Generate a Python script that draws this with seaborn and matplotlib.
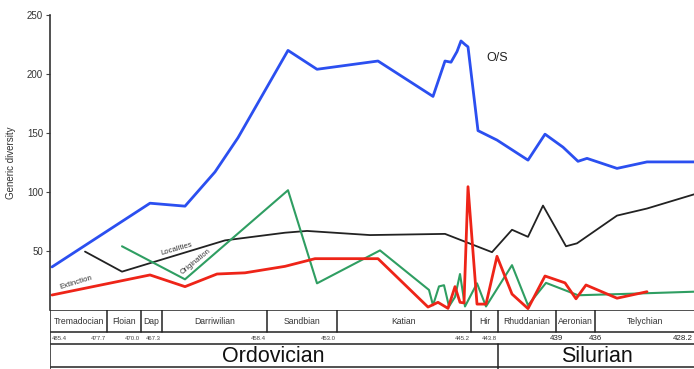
import matplotlib
matplotlib.use("Agg")
import matplotlib.pyplot as plt
import seaborn as sns
import pandas as pd

# ---------------- data (x = position along the stratigraphic scale) ----------------
total_pos = [52, 150, 185, 215, 238, 288, 317, 378, 433, 445, 451, 457, 461, 465, 468,
             478, 497, 528, 545, 563, 578, 587, 617, 647, 694]
total_div = [36.5, 90.5, 88, 117, 146, 220, 204, 211, 181, 211, 210, 219, 228, 225, 223,
             152, 144, 127, 149, 138, 126, 128.5, 120, 125.5, 125.5]

loc_pos = [85, 122, 225, 285, 307, 370, 445, 492, 512, 528, 543, 566, 577, 617, 647, 694]
loc_div = [49.5, 32.5, 59, 65.5, 67, 63.5, 64.5, 49, 68, 62, 88.5, 54, 56.5, 80, 86, 98]

orig_pos = [122, 185, 288, 317, 380, 429, 433, 439, 444, 449, 455, 460, 465, 477, 486,
            512, 528, 546, 578, 620, 694]
orig_div = [54, 26, 101.5, 22.6, 50.5, 17, 4, 20, 21, 3, 11, 30.5, 3, 22.6, 3,
            38, 4, 23, 12.5, 13.5, 15.5]

ext_pos = [52, 150, 185, 217, 245, 285, 315, 378, 428, 438, 448, 455, 460, 464, 468,
           477, 486, 497, 512, 528, 545, 565, 576, 586, 617, 647]
ext_div = [12.7, 29.7, 19.8, 30.5, 31.5, 37, 43.5, 43.5, 2.5, 6.5, 1.4, 19.8, 6.5, 6, 104.5,
           5, 5, 45.5, 13.5, 1.2, 28.8, 23, 9.5, 21.2, 10, 15.5]

stage_names = ["Tremadocian", "Floian", "Dap", "Darriwilian", "Sandbian", "Katian",
               "Hir", "Rhuddanian", "Aeronian", "Telychian"]
stage_edges = [50, 107, 141, 162, 267, 337, 471, 498, 556, 595, 694]
age_labels = ["485.4", "477.7", "470.0", "467.3", "458.4", "453.0", "445.2", "443.8",
              "439", "436", "428.2"]
period_names = ["Ordovician", "Silurian"]
period_edges = [50, 498, 694]

y_ticks = [50, 100, 150, 200, 250]

# ---------------- style ----------------
sns.set_theme(style="white")
plt.rcParams["font.family"] = ["Liberation Sans", "DejaVu Sans"]

W, H = 694, 369
fig = plt.figure(figsize=(W / 100, H / 100), dpi=100)
ax = fig.add_axes([50 / W, 59 / H, 644 / W, 295 / H])
tab = fig.add_axes([50 / W, 0, 644 / W, 59 / H])

blue, red, green, black = "#2b4ff0", "#ee2418", "#2f9e62", "#222222"

df = pd.concat([
    pd.DataFrame({"pos": total_pos, "div": total_div, "s": "O/S"}),
    pd.DataFrame({"pos": loc_pos, "div": loc_div, "s": "Localities"}),
    pd.DataFrame({"pos": orig_pos, "div": orig_div, "s": "Origination"}),
    pd.DataFrame({"pos": ext_pos, "div": ext_div, "s": "Extinction"}),
])

styles = {"Localities": (black, 1.3), "Origination": (green, 1.5),
          "Extinction": (red, 2.0), "O/S": (blue, 2.0)}
for name in ["Localities", "Origination", "Extinction", "O/S"]:
    col, lw = styles[name]
    sns.lineplot(data=df[df.s == name], x="pos", y="div", ax=ax, color=col,
                 linewidth=lw, estimator=None, sort=False, legend=False)

ax.set_xlim(50, 694)
ax.set_ylim(0, 250)
ax.set_xticks([])
ax.set_yticks(y_ticks)
ax.set_xlabel("")
ax.set_ylabel("Generic diversity", fontsize=7, color="#333333", labelpad=8)
ax.tick_params(axis="y", direction="out", length=3, width=0.8, color="#444444",
               labelsize=7, labelcolor="#333333", pad=2, left=True)
for side in ["top", "right", "bottom"]:
    ax.spines[side].set_visible(False)
ax.spines["left"].set_color("#333333")
ax.spines["left"].set_linewidth(1.2)

# line labels
ax.text(497, 213.5, "O/S", fontsize=9, color="#222222", ha="center", va="center")
ax.text(76, 23, "Extinction", fontsize=5.6, color="#333333", rotation=17,
        ha="center", va="center", rotation_mode="anchor")
ax.text(177, 52, "Localities", fontsize=5.6, color="#333333", rotation=16,
        ha="center", va="center", rotation_mode="anchor")
ax.text(196, 41, "Origination", fontsize=5.4, color="#333333", rotation=39,
        ha="center", va="center", rotation_mode="anchor")

# ---------------- time scale table ----------------
tab.set_xlim(50, 694)
tab.set_ylim(59, 0)
tab.axis("off")
lc = "#222222"
for yy in [0, 22, 34, 57]:
    tab.plot([50, 694], [yy, yy], color=lc, lw=1.1, solid_capstyle="butt")
tab.plot([50, 50], [0, 59], color="#333333", lw=1.2)
for e in stage_edges[1:-1]:
    tab.plot([e, e], [0, 22], color=lc, lw=1.1)
for e in period_edges[1:-1]:
    tab.plot([e, e], [34, 59], color=lc, lw=1.1)

for i, nm in enumerate(stage_names):
    cx = (stage_edges[i] + stage_edges[i + 1]) / 2
    tab.text(cx, 11.5, nm, fontsize=6.2, color="#333333", ha="center", va="center")

for i, lab in enumerate(age_labels):
    e = stage_edges[i]
    big = lab in ("439", "436", "428.2")
    if i == 0:
        ha, x = "left", e + 2
    elif lab in ("439", "436"):
        ha, x = "center", e
    else:
        ha, x = "right", e - 1
    tab.text(x, 28, lab, fontsize=5.7 if big else 4.3,
             color="#222222" if big else "#444444", ha=ha, va="center")

for i, nm in enumerate(period_names):
    cx = (period_edges[i] + period_edges[i + 1]) / 2
    if i == 0:
        cx = 273
    else:
        cx = 597
    tab.text(cx, 46, nm, fontsize=15.5, color="#111111", ha="center", va="center")

fig.savefig("out.png", dpi=100)
